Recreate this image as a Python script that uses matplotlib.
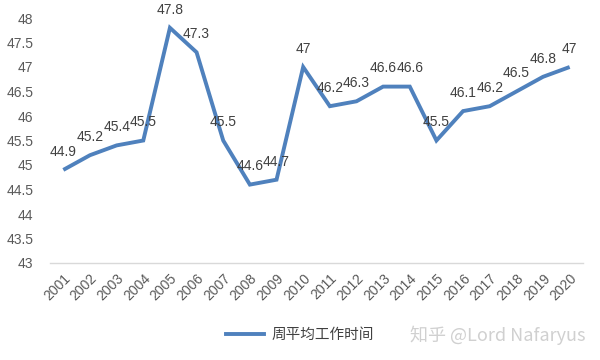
import matplotlib
matplotlib.use("Agg")
import matplotlib.pyplot as plt
from matplotlib.lines import Line2D

years = [str(y) for y in range(2001, 2021)]
hours = [44.9, 45.2, 45.4, 45.5, 47.8, 47.3, 45.5, 44.6, 44.7, 47.0,
         46.2, 46.3, 46.6, 46.6, 45.5, 46.1, 46.2, 46.5, 46.8, 47.0]
yticks = [43, 43.5, 44, 44.5, 45, 45.5, 46, 46.5, 47, 47.5, 48]
series_name = "周平均工作时间"
watermark = "知乎 @Lord Nafaryus"

plt.rcParams['font.family'] = ['Liberation Sans', 'Noto Sans CJK SC', 'DejaVu Sans']

fig = plt.figure(figsize=(6, 3.6), dpi=100)
ax = fig.add_axes([50/600, 1-263/360, 533/600, 245/360])

x = list(range(len(years)))
line_color = '#4f81bd'
ax.plot(x, hours, color=line_color, lw=2.8, solid_joinstyle='miter', solid_capstyle='butt')

for xi, v in zip(x, hours):
    lab = ('%g' % v)
    ax.annotate(lab, (xi, v), xytext=(0, 8), textcoords='offset points',
                ha='center', va='bottom', fontsize=10, color='#404040')

ax.set_xlim(-0.5, len(years) - 0.5)
ax.set_ylim(43, 48)
ax.set_yticks(yticks)
ax.set_yticklabels(['%g' % t for t in yticks])
ax.set_xticks(x)
ax.set_xticklabels(years, rotation=45, ha='right', va='top', rotation_mode='anchor')
ax.tick_params(axis='both', length=0, labelsize=10, colors='#595959')
ax.tick_params(axis='y', pad=12)
ax.tick_params(axis='x', pad=6)

for s in ['top', 'right', 'left']:
    ax.spines[s].set_visible(False)
ax.spines['bottom'].set_color('#d9d9d9')
ax.spines['bottom'].set_linewidth(1)

handle = Line2D([0], [0], color=line_color, lw=2.8)
fig.legend([handle], [series_name], loc='center', bbox_to_anchor=(300/600, 1-335/360),
           frameon=False, handlelength=2.6, handletextpad=0.5,
           labelcolor='#404040', prop={'family': ['Noto Sans CJK SC'], 'size': 10.5})

fig.text(586/600, 1-335/360, watermark, ha='right', va='center', fontsize=13,
         color='#d0d0d0', family=['Noto Sans CJK SC', 'DejaVu Sans'])

fig.savefig('out.png', dpi=100)
